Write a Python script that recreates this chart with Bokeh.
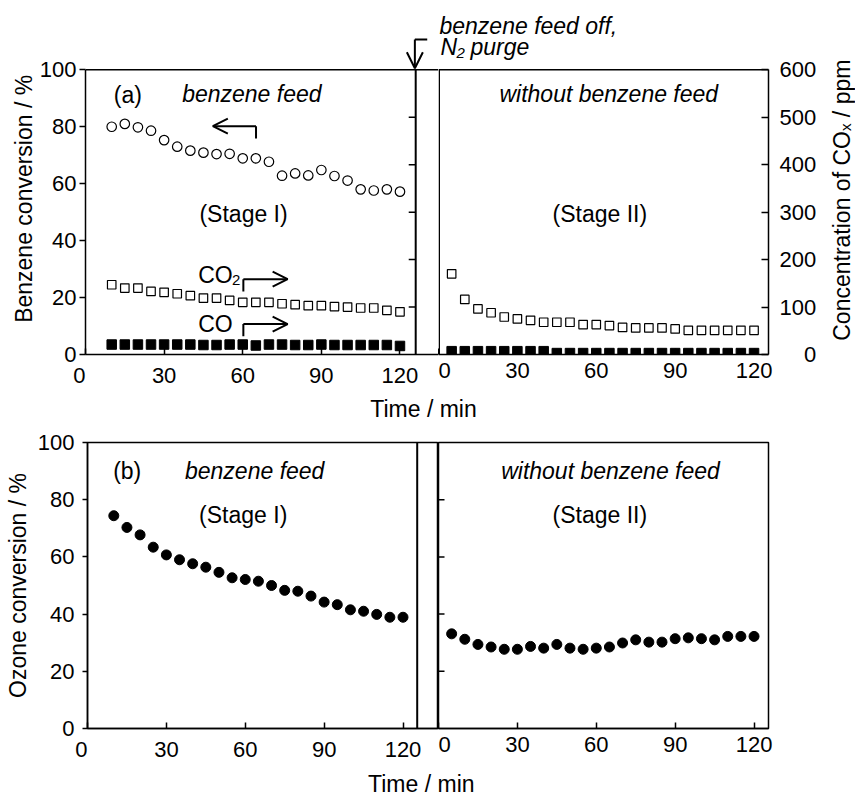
from math import pi
from bokeh.plotting import figure
from bokeh.models import Range1d, FixedTicker, Span, Label, Arrow, OpenHead
from bokeh.layouts import row, column
from bokeh.embed import file_html
from bokeh.resources import INLINE
from bokeh.core.properties import value

# ---------------- data ----------------
t_stage1 = [10, 15, 20, 25, 30, 35, 40, 45, 50, 55, 60, 65, 70, 75, 80, 85, 90, 95, 100, 105, 110, 115, 120]
benzene_conv = [80.0, 81.0, 79.8, 78.6, 75.3, 73.0, 71.6, 70.9, 70.4, 70.5, 68.9, 68.9, 67.7, 62.8,
                63.6, 62.9, 64.8, 62.7, 61.1, 58.0, 57.6, 58.0, 57.2]
co2_stage1 = [147, 140, 140, 133, 131, 128, 124, 119, 119, 114, 110, 110, 110, 107, 105, 103, 103,
              101, 100, 98, 98, 93, 90]
co_stage1 = [21, 21, 21, 21, 21, 21, 21, 20, 20, 21, 21, 19, 21, 21, 20, 20, 21, 20, 20, 20, 20, 20, 18]

t_stage2 = [5, 10, 15, 20, 25, 30, 35, 40, 45, 50, 55, 60, 65, 70, 75, 80, 85, 90, 95, 100, 105, 110, 115, 120]
co2_stage2 = [170, 116, 96, 88, 79, 75, 72, 68, 68, 68, 63, 63, 61, 57, 56, 56, 56, 54, 51, 51, 51, 51, 51, 51]
co_stage2 = [7, 7, 7, 7, 7, 7, 7, 7, 3, 3, 3, 3, 3, 3, 3, 3, 3, 3, 3, 3, 3, 3, 3, 3]

ozone_stage1 = [74.4, 70.3, 67.7, 63.4, 60.7, 59.0, 57.6, 56.4, 54.6, 52.7, 52.1, 51.5, 50.0, 48.3,
                48.0, 46.3, 44.2, 43.3, 41.5, 41.0, 39.9, 38.9, 38.9]
ozone_stage2 = [33.1, 31.2, 29.4, 28.5, 27.7, 27.7, 28.7, 28.1, 29.4, 28.1, 27.7, 28.1, 28.5, 29.9,
                31.0, 30.2, 30.2, 31.4, 31.7, 31.4, 31.0, 32.2, 32.2, 32.2]

x_ticks = [0, 30, 60, 90, 120]
pct_ticks = [0, 20, 40, 60, 80, 100]
ppm_ticks = [0, 100, 200, 300, 400, 500, 600]
inner_ppm_ticks = [100, 200, 300, 400, 500]
inner_pct_ticks = [20, 40, 60, 80]

# ---------------- style / geometry ----------------
FONT = "Liberation Sans"
TICK_FS = "22px"
TXT_FS = "23px"
SUB_FS = "15px"
LW = 1.5

TL_XR = (0, 134.7); SPLIT_TL = 126.0
BL_XR = (0, 133.5); SPLIT_BL = 125.4
R_XR = (0, 125.5)
TOP_PCT = (0, 124.34)     # frame of top row reaches page top
TOP_PPM = (0, 746.06)


def mapper(fx0, fx1, xr, fy0, fy1, yr):
    def m(px, py):
        return (xr[0] + (px - fx0) * (xr[1] - xr[0]) / (fx1 - fx0),
                yr[0] + (fy1 - py) * (yr[1] - yr[0]) / (fy1 - fy0))
    return m


mTL = mapper(84, 438, TL_XR, 0, 355, TOP_PCT)
mTR = mapper(438, 768, R_XR, 0, 355, TOP_PPM)
mBL = mapper(87, 438, BL_XR, 442, 728, (0, 100))
mBR = mapper(438, 768, R_XR, 442, 728, (0, 100))


def make_fig(width, height, xr, yr, mbl, mbr, mbt, mbb, y_loc="left", outline=True):
    p = figure(width=width, height=height, x_range=Range1d(*xr), y_range=Range1d(*yr),
               output_backend="svg", toolbar_location=None, y_axis_location=y_loc,
               min_border_left=mbl, min_border_right=mbr, min_border_top=mbt, min_border_bottom=mbb)
    p.grid.visible = False
    p.outline_line_color = "black" if outline else None
    p.outline_line_width = LW
    p.background_fill_color = "white"
    p.border_fill_color = "white"
    return p


def strip(width, height):
    p = figure(width=width, height=height, x_range=Range1d(0, width), y_range=Range1d(0, height),
               output_backend="svg", toolbar_location=None, x_axis_type=None, y_axis_type=None,
               min_border=0)
    p.outline_line_color = None
    p.background_fill_color = "white"
    p.border_fill_color = "white"
    return p


def strip_text(p, x, y, text, angle=0.0):
    p.text(x=[x], y=[y], text=[text], text_font=value(FONT), text_font_size=value(TXT_FS),
           text_align="center", text_baseline="middle", angle=angle, text_color="black")


def style_axis(ax, ticks, tin, tout, standoff, overrides=None, bounds=None):
    ax.ticker = FixedTicker(ticks=ticks)
    ax.major_tick_in = tin
    ax.major_tick_out = tout
    ax.minor_tick_line_color = None
    ax.axis_line_color = "black"
    ax.axis_line_width = LW
    ax.major_tick_line_color = "black"
    ax.major_tick_line_width = LW
    ax.major_label_text_font = FONT
    ax.major_label_text_font_size = TICK_FS
    ax.major_label_text_color = "black"
    ax.major_label_standoff = standoff
    if overrides:
        ax.major_label_overrides = overrides
    if bounds:
        ax.bounds = bounds


def add_text(p, m, px, py, text, size=TXT_FS, italic=False, align="center"):
    # (px, py): page position of the text's vertical middle
    x, y = m(px, py)
    p.add_layout(Label(x=x, y=y, text=text, text_font=FONT, text_font_size=size,
                       text_font_style="italic" if italic else "normal",
                       text_align=align, text_baseline="middle", text_color="black"))


def add_arrow(p, m, p0, p1, head=True, size=15):
    x0, y0 = m(*p0)
    x1, y1 = m(*p1)
    p.add_layout(Arrow(x_start=x0, y_start=y0, x_end=x1, y_end=y1, line_width=2,
                       line_color="black",
                       end=OpenHead(size=size, line_width=2, line_color="black") if head else None))


TOP_H = 390

# ---------------- left label strip (top) ----------------
lstrip = strip(36, TOP_H)
strip_text(lstrip, 23.3, TOP_H - 218.5, "Benzene conversion / %", angle=pi / 2)

# ---------------- top-left ----------------
tl = make_fig(402, TOP_H, TL_XR, TOP_PCT, 48, 0, 0, 35, outline=False)
tl.extra_y_ranges = {"ppm": Range1d(*TOP_PPM)}
style_axis(tl.xaxis[0], x_ticks, 6, 0, 8, {0: "0\u2007"})
style_axis(tl.yaxis[0], pct_ticks, 0, 6, 3, bounds=(0, 100))
# frame lines of the stage I box: top edge (over the gap too) and stage I end
tl.segment(x0=[TL_XR[0], SPLIT_TL], y0=[100, 0],
           x1=[TL_XR[1], SPLIT_TL], y1=[100, 100],
           line_color="black", line_width=[LW, 2])
tick_len_tl = 7 * (TL_XR[1] - TL_XR[0]) / 354
tl.segment(x0=[SPLIT_TL - tick_len_tl] * len(inner_ppm_ticks), y0=inner_ppm_ticks,
           x1=[SPLIT_TL] * len(inner_ppm_ticks), y1=inner_ppm_ticks,
           line_color="black", line_width=LW, y_range_name="ppm")
tl.scatter(t_stage1, benzene_conv, marker="circle", size=9.5, fill_color="white",
           line_color="black", line_width=1.2)
tl.scatter(t_stage1, co2_stage1, marker="square", size=8.5, fill_color="white",
           line_color="black", line_width=1.2, y_range_name="ppm")
tl.scatter(t_stage1, co_stage1, marker="square", size=9.5, fill_color="black",
           line_color="black", line_width=1, y_range_name="ppm")
add_text(tl, mTL, 126.5, 94.5, "(a)")
add_text(tl, mTL, 250.8, 94.0, "benzene feed", italic=True)
add_text(tl, mTL, 242.5, 214.0, "(Stage I)")
add_text(tl, mTL, 197.0, 275.5, "CO", align="left")
add_text(tl, mTL, 231.0, 280.0, "2", size=SUB_FS, align="left")
add_text(tl, mTL, 197.0, 324.5, "CO", align="left")
# arrows
add_arrow(tl, mTL, (255, 126), (211.7, 126), size=15)
add_arrow(tl, mTL, (255, 138.3), (255, 126), head=False)
add_arrow(tl, mTL, (242.3, 291.7), (242.3, 279.5), head=False)
add_arrow(tl, mTL, (242.3, 279.5), (286.7, 279.5), size=15)
add_arrow(tl, mTL, (242.3, 336.7), (242.3, 324.5), head=False)
add_arrow(tl, mTL, (242.3, 324.5), (286.7, 324.5), size=15)
# header arrow (benzene feed off)
add_arrow(tl, mTL, (426.7, 39), (414.3, 39), head=False)
add_arrow(tl, mTL, (414.3, 39), (414.3, 68), size=16)

# ---------------- top-right ----------------
tr = make_fig(387, TOP_H, R_XR, TOP_PPM, 0, 57, 0, 35, y_loc="right", outline=False)
style_axis(tr.xaxis[0], x_ticks, 6, 0, 8)
style_axis(tr.yaxis[0], ppm_ticks, 7, 0, 11, {0: "\u2007\u20070"}, bounds=(0, 600))
edge_in = 0.75 * (R_XR[1] - R_XR[0]) / 330
tr.segment(x0=[R_XR[0], R_XR[0] + edge_in], y0=[600, 0], x1=[R_XR[1], R_XR[0] + edge_in],
           y1=[600, 600], line_color="black", line_width=LW)
tr.scatter(t_stage2, co2_stage2, marker="square", size=8.5, fill_color="white",
           line_color="black", line_width=1.2)
tr.scatter(t_stage2, co_stage2, marker="square", size=9.5, fill_color="black",
           line_color="black", line_width=1)
add_text(tr, mTR, 608.3, 94.0, "without benzene feed", italic=True)
add_text(tr, mTR, 599.3, 214.0, "(Stage II)")
add_text(tr, mTR, 439, 25.5, "benzene feed off,", italic=True, align="left")
add_text(tr, mTR, 440, 47.0, "N", italic=True, align="left")
add_text(tr, mTR, 456, 53.0, "2", size=SUB_FS, italic=True, align="left")
add_text(tr, mTR, 470, 47.0, "purge", italic=True, align="left")

# ---------------- right label strip (top) ----------------
rstrip = strip(30, TOP_H)
strip_text(rstrip, 16, TOP_H - 220, "Concentration of CO\u2093 / ppm", angle=pi / 2)

# ---------------- time label 1 ----------------
t1 = strip(855, 35)
strip_text(t1, 423, 425 - 408.5, "Time / min")

# ---------------- bottom-left ----------------
bl = make_fig(438, 340, BL_XR, (0, 100), 87, 0, 17, 37)
style_axis(bl.xaxis[0], x_ticks, 6, 0, 8, {0: "0\u2007"})
style_axis(bl.yaxis[0], pct_ticks, 0, 5, 8)
bl.yaxis[0].axis_label = "Ozone conversion / %"
bl.yaxis[0].axis_label_text_font = FONT
bl.yaxis[0].axis_label_text_font_size = TXT_FS
bl.yaxis[0].axis_label_text_font_style = "normal"
bl.yaxis[0].axis_label_text_color = "black"
bl.yaxis[0].axis_label_standoff = 4
bl.add_layout(Span(location=SPLIT_BL, dimension="height", line_color="black", line_width=2))
bl.scatter(t_stage1, ozone_stage1, marker="circle", size=10, fill_color="black", line_color="black")
add_text(bl, mBL, 126.7, 470.0, "(b)")
add_text(bl, mBL, 254.2, 470.0, "benzene feed", italic=True)
add_text(bl, mBL, 242.7, 514.7, "(Stage I)")

# ---------------- bottom-right ----------------
br = make_fig(417, 340, R_XR, (0, 100), 0, 87, 17, 37, y_loc=None)
style_axis(br.xaxis[0], x_ticks, 6, 0, 8)
tick_len_br = 6 * (R_XR[1] - R_XR[0]) / 330
br.segment(x0=[0] * len(inner_pct_ticks), y0=inner_pct_ticks,
           x1=[tick_len_br] * len(inner_pct_ticks), y1=inner_pct_ticks,
           line_color="black", line_width=LW)
br.scatter(t_stage2, ozone_stage2, marker="circle", size=10, fill_color="black", line_color="black")
add_text(br, mBR, 610.0, 470.0, "without benzene feed", italic=True)
add_text(br, mBR, 599.3, 514.7, "(Stage II)")

# ---------------- time label 2 ----------------
t2 = strip(855, 31)
strip_text(t2, 420.8, 796 - 783.0, "Time / min")

layout = column(row(lstrip, tl, tr, rstrip), t1, row(bl, br), t2)
open("out.html", "w").write(file_html(layout, INLINE))
